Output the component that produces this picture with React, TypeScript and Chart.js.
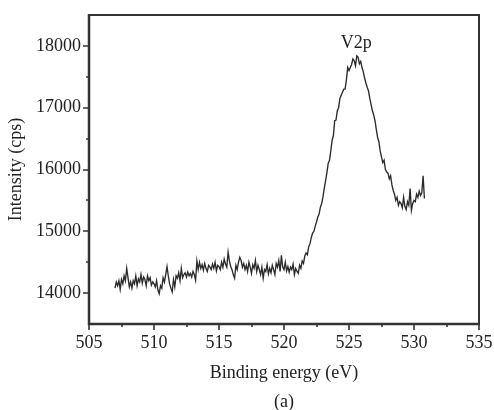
import React, { useEffect, useRef } from "react";
import { Chart, registerables } from "chart.js";

Chart.register(...registerables);

// ---- data ----
const ENERGY_START = 507.0; // eV, first sample
const ENERGY_STEP = 0.1; // eV, sampling step of the scan
const INTENSITY = [
  14080, 14180, 14120, 14200, 14060, 14220, 14150, 14280, 14200, 14400,
  14250, 14100, 14180, 14080, 14200, 14150, 14280, 14120, 14230, 14180,
  14300, 14160, 14260, 14220, 14120, 14280, 14200, 14250, 14130, 14180,
  14150, 14100, 14200, 14050, 13990, 14120, 14080, 14250, 14180, 14300,
  14430, 14280, 14150, 14080, 14020, 14220, 14100, 14280, 14240, 14330,
  14200, 14400, 14250, 14300, 14330, 14260, 14340, 14280, 14320, 14260,
  14350, 14300, 14210, 14520, 14380, 14500, 14400, 14460, 14370, 14480,
  14400, 14350, 14450, 14420, 14380, 14470, 14400, 14500, 14360, 14450,
  14430, 14380, 14500, 14420, 14550, 14470, 14420, 14660, 14520, 14430,
  14380, 14300, 14240, 14450, 14380, 14500, 14580, 14530, 14420, 14480,
  14380, 14450, 14350, 14500, 14420, 14320, 14460, 14400, 14530, 14350,
  14450, 14380, 14300, 14420, 14240, 14380, 14350, 14460, 14310, 14400,
  14330, 14450, 14380, 14300, 14480, 14420, 14530, 14350, 14610, 14420,
  14380, 14500, 14360, 14430, 14340, 14420, 14380, 14470, 14300, 14400,
  14350, 14320, 14450, 14400, 14520, 14480, 14600, 14650, 14620, 14750,
  14800, 14900, 14970, 15000, 15080, 15150, 15230, 15280, 15390, 15450,
  15560, 15700, 15820, 15950, 16100, 16150, 16300, 16470, 16550, 16790,
  16800, 16950, 17000, 17150, 17200, 17250, 17300, 17300, 17450, 17650,
  17600, 17650, 17700, 17790, 17760, 17680, 17840, 17820, 17710, 17750,
  17650, 17580, 17480, 17400, 17330, 17270, 17150, 17050, 16950, 16880,
  16790, 16650, 16520, 16450, 16300, 16200, 16110, 16150, 16000, 15960,
  15940, 15850, 15900, 15750, 15660, 15600, 15500, 15550, 15420, 15480,
  15450, 15380, 15550, 15400, 15350, 15480, 15420, 15690, 15340, 15450,
  15500, 15480, 15600, 15550, 15650, 15580, 15620, 15900, 15530,
];

const X_MIN = 505;
const X_MAX = 535;
const X_TICKS = [505, 510, 515, 520, 525, 530, 535];
const X_MINOR_TICKS = [507.5, 512.5, 517.5, 522.5, 527.5, 532.5];
const Y_MIN = 13500;
const Y_MAX = 18500;
const Y_TICKS = [14000, 15000, 16000, 17000, 18000];
const Y_MINOR_TICKS = [14500, 15500, 16500, 17500];

const X_TITLE = "Binding energy (eV)";
const Y_TITLE = "Intensity (cps)";
const PANEL_LABEL = "(a)";
const PEAK_LABEL = "V2p";
const PEAK_LABEL_AT = { x: 525.55, y: 18050 };

const FONT_FAMILY = '"Liberation Serif", "Times New Roman", serif';
const INK = "#2b2b2b";

export default function App() {
  const canvasRef = useRef<HTMLCanvasElement | null>(null);

  useEffect(() => {
    const canvas = canvasRef.current;
    if (!canvas) return;

    const points = INTENSITY.map((v, i) => ({
      x: ENERGY_START + i * ENERGY_STEP,
      y: v,
    }));

    const decor = {
      id: "decor",
      afterDraw(chart: any) {
        const { ctx, chartArea, scales } = chart;
        const { left, right, top, bottom } = chartArea;
        const xs = scales.x;
        const ys = scales.y;
        ctx.save();
        ctx.strokeStyle = "#333";
        ctx.lineCap = "butt";
        // frame
        ctx.lineWidth = 2;
        ctx.beginPath();
        ctx.moveTo(left, top);
        ctx.lineTo(right, top);
        ctx.lineTo(right, bottom);
        ctx.stroke();
        ctx.lineWidth = 2.5;
        ctx.beginPath();
        ctx.moveTo(left, top - 1);
        ctx.lineTo(left, bottom);
        ctx.lineTo(right + 1, bottom);
        ctx.stroke();
        // tick marks
        ctx.lineWidth = 1.6;
        ctx.beginPath();
        X_TICKS.forEach((v) => {
          const p = Math.round(xs.getPixelForValue(v));
          ctx.moveTo(p, bottom);
          ctx.lineTo(p, bottom + 6);
        });
        X_MINOR_TICKS.forEach((v) => {
          const p = Math.round(xs.getPixelForValue(v));
          ctx.moveTo(p, bottom);
          ctx.lineTo(p, bottom + 3);
        });
        Y_TICKS.forEach((v) => {
          const p = Math.round(ys.getPixelForValue(v));
          ctx.moveTo(left, p);
          ctx.lineTo(left - 6, p);
        });
        Y_MINOR_TICKS.forEach((v) => {
          const p = Math.round(ys.getPixelForValue(v));
          ctx.moveTo(left, p);
          ctx.lineTo(left - 3, p);
        });
        ctx.stroke();
        // tick labels
        ctx.fillStyle = "#222";
        ctx.font = `18px ${FONT_FAMILY}`;
        ctx.textBaseline = "middle";
        ctx.textAlign = "center";
        X_TICKS.forEach((v) => {
          ctx.fillText(String(v), xs.getPixelForValue(v), bottom + 19);
        });
        ctx.textAlign = "right";
        Y_TICKS.forEach((v) => {
          ctx.fillText(String(v), left - 8, ys.getPixelForValue(v));
        });
        // titles
        ctx.textAlign = "center";
        const cx = (left + right) / 2;
        ctx.fillText(X_TITLE, cx, bottom + 49);
        ctx.fillText(PANEL_LABEL, cx, bottom + 78);
        ctx.fillText(
          PEAK_LABEL,
          xs.getPixelForValue(PEAK_LABEL_AT.x),
          ys.getPixelForValue(PEAK_LABEL_AT.y)
        );
        ctx.save();
        ctx.translate(16, (top + bottom) / 2);
        ctx.rotate(-Math.PI / 2);
        ctx.fillText(Y_TITLE, 0, 0);
        ctx.restore();
        ctx.restore();
      },
    };

    const chart = new Chart(canvas, {
      type: "line",
      data: {
        datasets: [
          {
            data: points,
            borderColor: INK,
            borderWidth: 1.35,
            pointRadius: 0,
            tension: 0,
            fill: false,
          },
        ],
      },
      options: {
        animation: false,
        responsive: false,
        devicePixelRatio: 1,
        layout: { padding: { left: 0, top: 15, right: 15, bottom: 0 } },
        plugins: {
          legend: { display: false },
          tooltip: { enabled: false },
        },
        scales: {
          x: {
            type: "linear",
            min: X_MIN,
            max: X_MAX,
            grid: { display: false, drawTicks: false },
            border: { display: false },
            ticks: { display: false },
            afterFit: (s: any) => {
              s.height = 86;
            },
          },
          y: {
            type: "linear",
            min: Y_MIN,
            max: Y_MAX,
            grid: { display: false, drawTicks: false },
            border: { display: false },
            ticks: { display: false },
            afterFit: (s: any) => {
              s.width = 89;
            },
          },
        },
      },
      plugins: [decor],
    });

    return () => chart.destroy();
  }, []);

  return (
    <div
      style={{
        position: "fixed",
        left: 0,
        top: 0,
        width: 494,
        height: 410,
        background: "#fff",
      }}
    >
      <canvas ref={canvasRef} width={494} height={410} />
    </div>
  );
}
